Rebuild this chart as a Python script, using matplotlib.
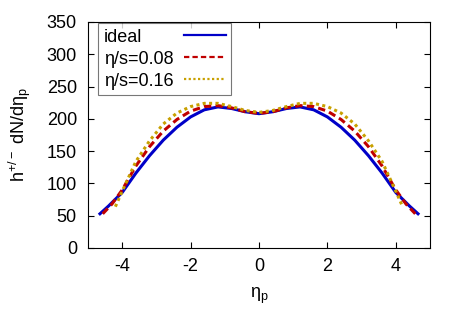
import matplotlib
matplotlib.use('Agg')
import matplotlib.pyplot as plt

eta_ideal = [-4.65, -4.4, -4.0, -3.6, -3.2, -2.8, -2.4, -2.0, -1.6, -1.2, -0.8, -0.4, 0.0,
             0.4, 0.8, 1.2, 1.6, 2.0, 2.4, 2.8, 3.2, 3.6, 4.0, 4.4, 4.65]
dn_ideal = [53, 65, 86, 116, 143, 167, 187, 203, 214, 218.5, 216, 211, 208,
            211, 216, 218.5, 214, 203, 187, 167, 143, 116, 86, 65, 53]

eta_008 = [-4.57, -4.3, -4.0, -3.6, -3.2, -2.8, -2.4, -2.0, -1.6, -1.2, -0.8, -0.4, 0.0,
           0.4, 0.8, 1.2, 1.6, 2.0, 2.4, 2.8, 3.2, 3.6, 4.0, 4.3, 4.57]
dn_008 = [53, 68, 90, 127, 157, 181, 199, 212, 219, 220.5, 217, 211, 208.5,
          211, 217, 220.5, 219, 212, 199, 181, 157, 127, 90, 68, 53]

eta_016 = [-4.2, -4.0, -3.6, -3.2, -2.8, -2.4, -2.0, -1.6, -1.2, -0.8, -0.4, 0.0,
           0.4, 0.8, 1.2, 1.6, 2.0, 2.4, 2.8, 3.2, 3.6, 4.0, 4.2]
dn_016 = [64, 88, 134, 166, 192, 209, 219, 224, 224, 219, 213, 210,
          213, 219, 224, 224, 219, 209, 192, 166, 134, 88, 64]

labels = ['ideal', 'η/s=0.08', 'η/s=0.16']

plt.rcParams['font.family'] = ['Liberation Sans', 'DejaVu Sans']
plt.rcParams['mathtext.fontset'] = 'custom'
plt.rcParams['mathtext.rm'] = 'Liberation Sans'
plt.rcParams['mathtext.it'] = 'Liberation Sans'
plt.rcParams['axes.unicode_minus'] = False
plt.rcParams['font.size'] = 13

fig = plt.figure(figsize=(4.63, 3.24), dpi=100)
ax = fig.add_axes([88 / 463, 1 - 248 / 324, 342 / 463, 226 / 324])

ax.plot(eta_ideal, dn_ideal, color='#0000c8', lw=2.2, label=labels[0])
ax.plot(eta_008, dn_008, color='#c00000', lw=2.2, ls=(0, (2.4, 1.4)), label=labels[1])
ax.plot(eta_016, dn_016, color='#c8a000', lw=2.2, ls=(0, (1, 1.1)), label=labels[2])

ax.set_xlim(-5, 5)
ax.set_ylim(0, 350)
ax.set_xticks([-4, -2, 0, 2, 4])
ax.set_yticks(range(0, 351, 50))
ax.tick_params(direction='in', top=True, right=True, length=4, width=0.8, labelsize=13)
ax.tick_params(axis='x', pad=7)
ax.tick_params(axis='y', pad=8)
ax.set_xlabel('η$_\\mathrm{p}$', fontsize=13, labelpad=8)
ax.set_ylabel('h$^{+/-}$ dN/dη$_\\mathrm{p}$', fontsize=13, labelpad=10)

leg = ax.legend(loc='upper left', markerfirst=False, fancybox=False, edgecolor='#555555',
                handlelength=2.3, handletextpad=0.6, fontsize=13, borderpad=0.3,
                labelspacing=0.28, bbox_to_anchor=(0.03, 0.995), borderaxespad=0)
leg.get_frame().set_linewidth(0.8)
for line in leg.get_lines():
    line.set_linewidth(1.6)

# left-align the label texts while keeping the sample lines aligned on the right
fig.canvas.draw()
renderer = fig.canvas.get_renderer()
column = leg._legend_handle_box.get_children()[0]
rows = column.get_children()
widths = [row.get_children()[0].get_bbox(renderer).width for row in rows]
column.align = 'left'
for row, w in zip(rows, widths):
    row.sep += (max(widths) - w) * 72 / fig.dpi

fig.savefig('out.png', dpi=100)
